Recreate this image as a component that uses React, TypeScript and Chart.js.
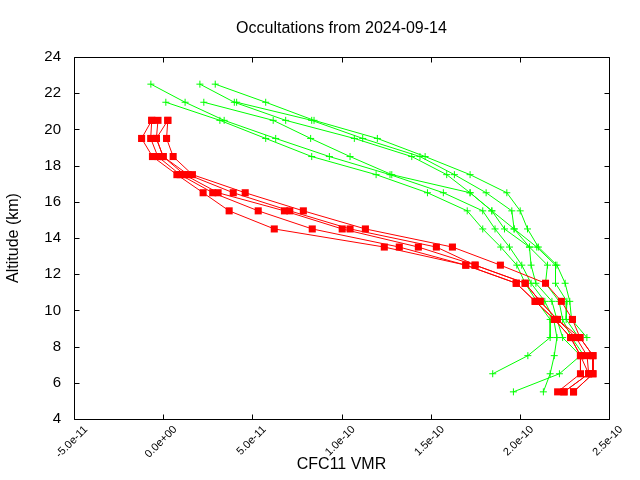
import React, { useEffect, useRef } from "react";
import { Chart, registerables } from "chart.js";

Chart.register(...registerables);

// CFC11 VMR values in units of 1e-12 (x axis), altitude in km (y axis)
const redAltitudes = [20.5, 19.5, 18.5, 17.5, 16.5, 15.5, 14.5, 13.5, 12.5, 11.5, 10.5, 9.5, 8.5, 7.5, 6.5, 5.5];
const red1 = [-6.4, -12.1, -6.0, 7.7, 22.4, 37.0, 62.3, 124.0, 169.7, 198.0, 208.6, 219.4, 228.5, 234.0, 234.0, 221.2];
const red2 = [-6.4, -7.0, -3.0, 9.5, 27.8, 53.3, 83.6, 132.4, 169.7, 198.0, 208.6, 219.4, 228.5, 234.0, 238.6, 224.8];
const red3 = [-2.9, -3.8, 0.0, 11.9, 30.8, 68.0, 100.4, 143.1, 174.9, 203.0, 211.4, 221.0, 231.5, 237.7, 238.6, 224.8];
const red4 = [2.6, -3.8, 0.0, 14.0, 39.3, 71.0, 104.8, 153.2, 174.9, 203.0, 211.4, 221.0, 233.7, 241.0, 241.0, 230.1];
const red5 = [2.6, 1.9, 5.6, 16.4, 46.0, 78.6, 113.4, 162.2, 189.1, 214.4, 223.3, 229.5, 233.7, 241.0, 241.0, 230.1];

const greenAltitudes = [22.5, 21.5, 20.5, 19.5, 18.5, 17.5, 16.5, 15.5, 14.5, 13.5, 12.5, 11.5, 10.5, 9.5, 8.5, 7.5, 6.5, 5.5];
const green1 = [null, 1.5, 31.8, 57.5, 83.3, 119.4, 148.2, 170.5, 179.2, 189.3, 198.3, 203.0, 209.5, 217.0, 217.0, 204.5, 184.8, null];
const green2 = [-6.9, 12.3, 34.2, 63.1, 93.2, 127.2, 157.1, 179.2, 186.1, 194.2, 201.1, 206.3, 214.0, 219.0, 220.8, 219.3, 217.0, 213.2];
const green3 = [null, 22.8, 61.7, 82.7, 104.8, 128.2, 172.1, 184.3, 191.4, 205.4, 206.3, 209.0, 218.0, 220.8, 224.0, 234.0, 222.2, 196.4];
const green4 = [20.6, 39.9, 68.7, 107.2, 139.4, 159.0, 172.1, 184.3, 196.8, 205.4, 215.5, 214.4, 222.0, 224.0, 229.0, 236.0, null, null];
const green5 = [null, 41.2, 83.3, 111.9, 144.0, 163.3, 181.1, 195.5, 196.8, 209.5, 220.0, 220.0, 226.4, 226.0, 233.0, null, null, null];
const green6 = [29.2, 57.5, 84.6, 120.1, 146.9, 172.1, 192.7, 200.2, 204.3, 210.4, 220.8, 225.4, 228.0, 229.0, 237.6, null, null, null];

const redProfiles = [red1, red2, red3, red4, red5];
const greenProfiles = [green1, green2, green3, green4, green5, green6];

const xMin = -50;
const xMax = 250;
const xStep = 50;
const yMin = 4;
const yMax = 24;
const yStep = 2;

const titleText = "Occultations from 2024-09-14";
const xTitle = "CFC11 VMR";
const yTitle = "Altitude (km)";

const FONT = "'Liberation Sans', Arial, sans-serif";

function fmtTick(v: number): string {
  const s = (v * 1e-12).toExponential(1);
  return s.replace(/e([+-])(\d+)$/, (_m, sign, d) => "e" + sign + (d.length < 2 ? "0" + d : d));
}

function toPoints(alts: number[], vals: (number | null)[]) {
  const pts: { x: number; y: number }[] = [];
  alts.forEach((a, i) => {
    const v = vals[i];
    if (v !== null && v !== undefined) pts.push({ x: v, y: a });
  });
  return pts;
}

const framePlugin = {
  id: "gnuplotFrame",
  afterDatasetsDraw(chart: any) {
    const { ctx, chartArea, scales } = chart;
    const L = Math.round(chartArea.left) + 0.5;
    const R = Math.round(chartArea.right) + 0.5;
    const T = Math.round(chartArea.top) + 0.5;
    const B = Math.round(chartArea.bottom) + 0.5;
    const tl = 5;
    ctx.save();
    ctx.strokeStyle = "#000";
    ctx.lineWidth = 1;
    ctx.beginPath();
    ctx.rect(L, T, R - L, B - T);
    scales.x.ticks.forEach((t: any) => {
      const px = Math.round(scales.x.getPixelForValue(t.value)) + 0.5;
      ctx.moveTo(px, B);
      ctx.lineTo(px, B - tl);
      ctx.moveTo(px, T);
      ctx.lineTo(px, T + tl);
    });
    scales.y.ticks.forEach((t: any) => {
      const py = Math.round(scales.y.getPixelForValue(t.value)) + 0.5;
      ctx.moveTo(L, py);
      ctx.lineTo(L + tl, py);
      ctx.moveTo(R, py);
      ctx.lineTo(R - tl, py);
    });
    ctx.stroke();
    ctx.restore();
  },
};

export default function App() {
  const ref = useRef<HTMLCanvasElement>(null);

  useEffect(() => {
    if (!ref.current) return;
    const datasets: any[] = [];
    redProfiles.forEach((vals, i) => {
      datasets.push({
        label: "red" + (i + 1),
        data: toPoints(redAltitudes, vals),
        showLine: true,
        borderColor: "#ff0000",
        backgroundColor: "#ff0000",
        borderWidth: 1,
        pointStyle: "rect",
        pointRadius: 5,
        pointBorderWidth: 0,
        pointBackgroundColor: "#ff0000",
      });
    });
    greenProfiles.forEach((vals, i) => {
      datasets.push({
        label: "green" + (i + 1),
        data: toPoints(greenAltitudes, vals),
        showLine: true,
        borderColor: "#00ff00",
        backgroundColor: "#00ff00",
        borderWidth: 1,
        pointStyle: "cross",
        pointRadius: 3.5,
        pointBorderWidth: 1,
      });
    });

    const chart = new Chart(ref.current, {
      type: "scatter",
      data: { datasets },
      options: {
        animation: false,
        responsive: false,
        devicePixelRatio: 1,
        layout: { padding: { left: 0, right: 31, top: 0, bottom: 0 } },
        plugins: {
          legend: { display: false },
          tooltip: { enabled: false },
          title: {
            display: true,
            text: titleText,
            color: "#000",
            fullSize: false,
            font: { family: FONT, size: 16, weight: "normal" },
            padding: { top: 18.5, bottom: 19.3 },
          },
        },
        scales: {
          x: {
            type: "linear",
            min: xMin,
            max: xMax,
            grid: { display: false, drawTicks: false },
            border: { display: false },
            ticks: {
              stepSize: xStep,
              minRotation: 45,
              maxRotation: 45,
              color: "#000",
              padding: 4,
              labelOffset: 12,
              font: { family: FONT, size: 11 },
              callback: (v: any) => fmtTick(Number(v)),
            },
            title: {
              display: true,
              text: xTitle,
              color: "#000",
              font: { family: FONT, size: 16 },
              padding: { top: 0, bottom: 5.4 },
            },
            afterFit: (s: any) => {
              s.height = 61;
            },
          },
          y: {
            type: "linear",
            min: yMin,
            max: yMax,
            grid: { display: false, drawTicks: false },
            border: { display: false },
            ticks: {
              stepSize: yStep,
              color: "#000",
              padding: 13,
              font: { family: FONT, size: 15 },
            },
            title: {
              display: true,
              text: yTitle,
              color: "#000",
              font: { family: FONT, size: 16 },
              padding: { top: 3.5, bottom: 0 },
            },
            afterFit: (s: any) => {
              s.width = 74;
            },
          },
        },
      } as any,
      plugins: [framePlugin],
    });
    return () => chart.destroy();
  }, []);

  return (
    <div style={{ position: "absolute", left: 0, top: 0, width: 640, height: 480, background: "#fff" }}>
      <canvas ref={ref} width={640} height={480} style={{ display: "block", width: 640, height: 480 }} />
    </div>
  );
}
